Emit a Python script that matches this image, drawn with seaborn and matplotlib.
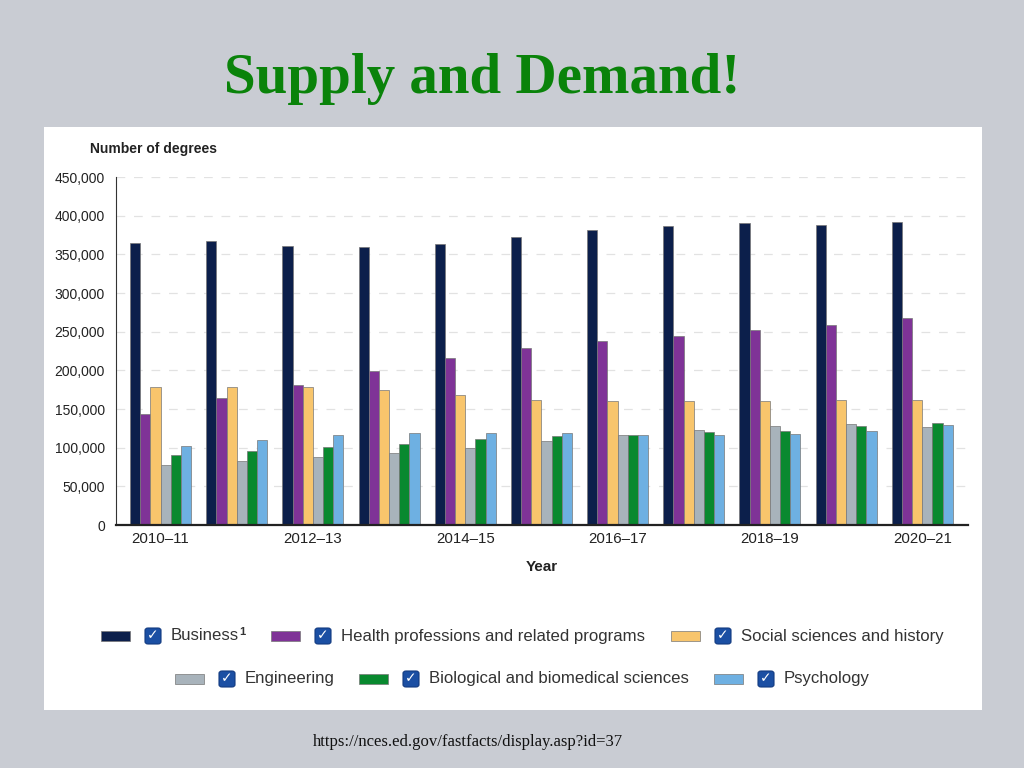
import matplotlib
matplotlib.use("Agg")
import matplotlib.pyplot as plt
from matplotlib.patches import Rectangle, FancyBboxPatch
from matplotlib.ticker import FuncFormatter, MultipleLocator
import pandas as pd
import seaborn as sns

# data (number of degrees)
years = ["2010–11", "2011–12", "2012–13", "2013–14", "2014–15", "2015–16",
         "2016–17", "2017–18", "2018–19", "2019–20", "2020–21"]
business = [365000, 367000, 361000, 359000, 364000, 372000, 382000, 387000, 391000, 388000, 392000]
health = [144000, 164000, 181000, 199000, 216000, 229000, 238000, 245000, 252000, 258000, 268000]
social = [178000, 179000, 178000, 174000, 168000, 162000, 160000, 161000, 161000, 162000, 162000]
engineering = [77000, 83000, 88000, 93000, 99000, 108000, 117000, 123000, 128000, 130000, 127000]
biology = [91000, 96000, 101000, 105000, 111000, 115000, 117000, 120000, 122000, 128000, 132000]
psychology = [102000, 110000, 116000, 119000, 119000, 119000, 117000, 117000, 118000, 121000, 129000]

fields = ["Business", "Health professions and related programs", "Social sciences and history",
          "Engineering", "Biological and biomedical sciences", "Psychology"]
colors = ["#0c1f4b", "#7f3397", "#f8c56c", "#a8b3bb", "#09892f", "#6eb0e2"]

series = [business, health, social, engineering, biology, psychology]
df = pd.DataFrame([
    {"Year": y, "Field": f, "Degrees": v}
    for f, vals in zip(fields, series)
    for y, v in zip(years, vals)
])

sns.set_theme(style="white")
plt.rcParams["font.family"] = ["Liberation Sans", "DejaVu Sans"]

fig = plt.figure(figsize=(10.24, 7.68), dpi=100)
fig.patch.set_facecolor("#c9ccd3")

# white chart panel (behind the axes)
fig.patches.append(Rectangle((0.043, 0.0755), 0.916, 0.759, transform=fig.transFigure,
                             facecolor="white", edgecolor="none", zorder=-5))

fig.text(0.471, 0.897, "Supply and Demand!", ha="center", va="center",
         fontsize=41, fontweight="bold", color="#0a830a", family="Liberation Serif")
fig.text(0.457, 0.034, "https://nces.ed.gov/fastfacts/display.asp?id=37", ha="center",
         va="center", fontsize=12, color="#111111", family="Liberation Serif")

ax = fig.add_axes([0.1133, 0.3164, 0.832, 0.4531])
ax.set_zorder(2)
ax.set_facecolor("none")
sns.barplot(data=df, x="Year", y="Degrees", hue="Field", hue_order=fields,
            palette=colors, saturation=1, width=0.8, edgecolor="#777777",
            linewidth=0.5, legend=False, ax=ax)

ax.set_xlim(-0.585, 10.6)
ax.set_ylim(0, 450000)
ax.yaxis.set_major_locator(MultipleLocator(50000))
ax.yaxis.set_major_formatter(FuncFormatter(lambda v, p: f"{int(v):,}"))
ax.grid(axis="y", color="#e2e2e2", linestyle=(0, (7, 7)), linewidth=0.9)
ax.set_axisbelow(True)
for s in ["top", "right"]:
    ax.spines[s].set_visible(False)
ax.spines["left"].set_color("#333333")
ax.spines["left"].set_linewidth(0.8)
ax.spines["bottom"].set_color("#222222")
ax.spines["bottom"].set_linewidth(1.6)
ax.set_xticks(range(len(years)))
ax.set_xticklabels([y if i % 2 == 0 else "" for i, y in enumerate(years)])
ax.tick_params(axis="y", length=0, labelsize=10, colors="#222222", pad=8)
ax.tick_params(axis="x", length=0, labelsize=10.8, colors="#222222", pad=5)
ax.set_ylabel("")
ax.set_xlabel("Year", fontsize=11, fontweight="bold", color="#222222", labelpad=10)
fig.text(0.088, 0.806, "Number of degrees", fontsize=10, fontweight="bold",
         color="#222222", va="center")

# legend with checkboxes
W, H = 1024, 768
legend_items = [
    (101, 636, "Business", True),
    (271, 636, "Health professions and related programs", False),
    (671, 636, "Social sciences and history", False),
    (175, 679, "Engineering", False),
    (359, 679, "Biological and biomedical sciences", False),
    (714, 679, "Psychology", False),
]
for (px, py, label, sup), col in zip(legend_items, colors):
    fig.patches.append(Rectangle((px / W, 1 - (py + 5) / H), 29 / W, 10 / H,
                                 transform=fig.transFigure, facecolor=col,
                                 edgecolor="#777777", linewidth=0.5))
    fig.patches.append(FancyBboxPatch(((px + 44) / W, 1 - (py + 8) / H), 16 / W, 16 / H,
                                      boxstyle="round,pad=0,rounding_size=0.003",
                                      transform=fig.transFigure, facecolor="#1b4fa3",
                                      edgecolor="#123a80", linewidth=0.8))
    fig.text((px + 52) / W, 1 - (py - 0.5) / H, "✓", ha="center", va="center",
             fontsize=10, fontweight="bold", color="white", family="DejaVu Sans")
    fig.text((px + 70) / W, 1 - py / H, label, ha="left", va="center",
             fontsize=12.1, color="#333333")
    if sup:
        fig.text((px + 138) / W, 1 - (py - 4) / H, "1", ha="left", va="center",
                 fontsize=8, fontweight="bold", color="#333333")

fig.savefig("out.png", dpi=100, facecolor=fig.get_facecolor())
